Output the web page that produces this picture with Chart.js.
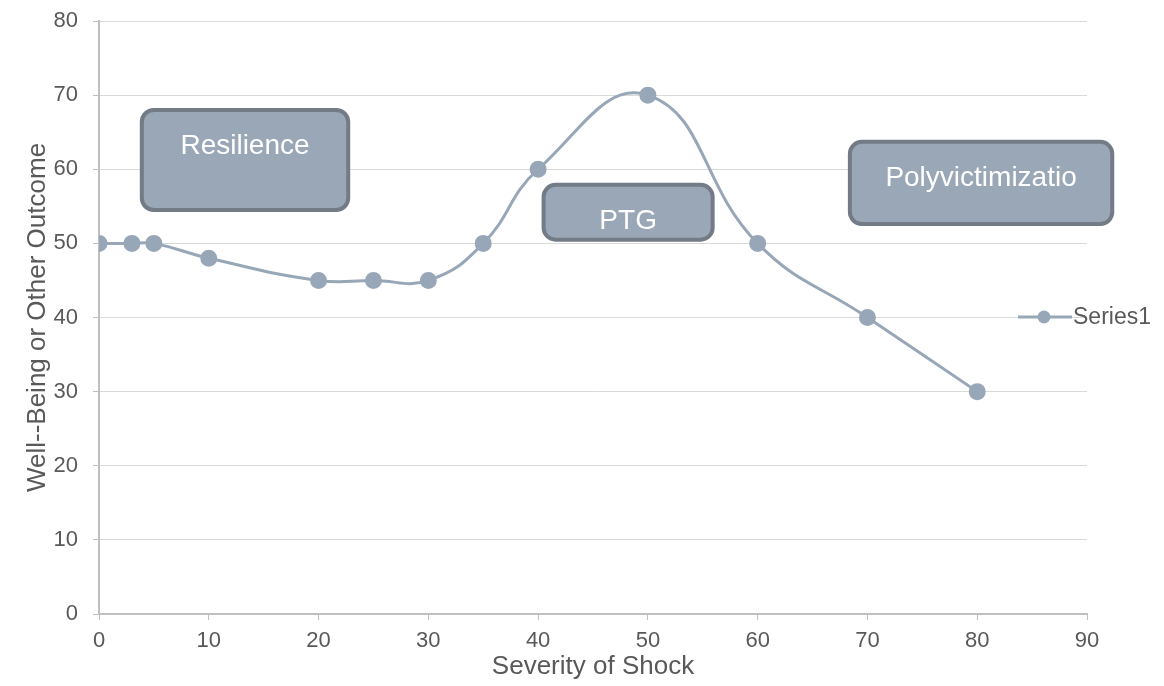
<!DOCTYPE html>
<html lang="en">
<head>
    <meta charset="UTF-8">
    <title>Severity of Shock</title>
    <style>
        body { margin: 0; background: #fff; }
        #wrap { width: 1164px; height: 686px; }
    </style>
</head>
<body>
<div id="wrap">
    <canvas id="shockChart" width="1164" height="686"></canvas>
</div>

<script src="https://cdn.jsdelivr.net/npm/chart.js"></script>

<script>
    // Data
    const severity = [0, 3, 5, 10, 20, 25, 30, 35, 40, 50, 60, 70, 80];
    const wellBeing = [50, 50, 50, 48, 45, 45, 45, 50, 60, 70, 50, 40, 30];
    const seriesName = "Series1";
    const boxLabels = ["Resilience", "PTG", "Polyvictimizatio"];

    const lineColor = "#98a7b8";
    const fontName = "'Liberation Sans', Arial, sans-serif";

    // Rounded label boxes, placed in data units
    const boxPlugin = {
        id: "boxes",
        afterDatasetsDraw(chart) {
            const ctx = chart.ctx;
            const x = chart.scales.x, y = chart.scales.y;
            const spots = [
                [3.9, 68.0, 22.7, 54.5],
                [40.5, 57.9, 55.9, 50.5],
                [68.4, 63.7, 92.3, 52.6]
            ];
            ctx.save();
            spots.forEach((s, i) => {
                const l = x.getPixelForValue(s[0]);
                const t = y.getPixelForValue(s[1]);
                const r = x.getPixelForValue(s[2]);
                const b = y.getPixelForValue(s[3]);
                ctx.beginPath();
                ctx.roundRect(l, t, r - l, b - t, 12);
                ctx.fillStyle = "#9aa7b6";
                ctx.fill();
                ctx.lineWidth = 4;
                ctx.strokeStyle = "#737b87";
                ctx.stroke();
                ctx.fillStyle = "#ffffff";
                ctx.font = "28px " + fontName;
                ctx.textAlign = "center";
                ctx.textBaseline = "middle";
                ctx.fillText(boxLabels[i], (l + r) / 2, t + 36);
            });

            // legend drawn over the right edge like the original
            const ly = 317;
            ctx.strokeStyle = lineColor;
            ctx.lineWidth = 3;
            ctx.beginPath();
            ctx.moveTo(1018, ly);
            ctx.lineTo(1072, ly);
            ctx.stroke();
            ctx.beginPath();
            ctx.arc(1044, ly, 6.5, 0, Math.PI * 2);
            ctx.fillStyle = lineColor;
            ctx.fill();
            ctx.fillStyle = "#595959";
            ctx.font = "23px " + fontName;
            ctx.textAlign = "left";
            ctx.textBaseline = "middle";
            ctx.fillText(seriesName, 1073, ly + 1);
            ctx.restore();
        }
    };

    const points = severity.map((v, i) => ({ x: v, y: wellBeing[i] }));

    const shockChart = new Chart(document.getElementById("shockChart"), {
        type: "scatter",
        data: {
            datasets: [{
                label: seriesName,
                data: points,
                showLine: true,
                tension: 0.45,
                borderColor: lineColor,
                backgroundColor: lineColor,
                borderWidth: 3,
                pointRadius: 7,
                pointHoverRadius: 7
            }]
        },
        options: {
            responsive: false,
            animation: false,
            layout: { padding: { top: 21, right: 77, left: 22, bottom: 4 } },
            plugins: {
                legend: { display: false },
                tooltip: { enabled: false }
            },
            scales: {
                x: {
                    min: 0,
                    max: 90,
                    ticks: { stepSize: 10, color: "#595959", font: { family: fontName, size: 22 }, padding: 8 },
                    grid: { drawOnChartArea: false, drawTicks: true, tickLength: 6, color: "#bfbfbf" },
                    border: { color: "#bfbfbf", width: 2 },
                    title: { display: true, text: "Severity of Shock", color: "#595959", font: { family: fontName, size: 26 }, padding: 0 },
                    afterFit(scale) { scale.height = 68; }
                },
                y: {
                    min: 0,
                    max: 80,
                    ticks: { stepSize: 10, color: "#595959", font: { family: fontName, size: 22 }, padding: 15 },
                    grid: { color: "#d9d9d9", tickLength: 6, tickColor: "#bfbfbf" },
                    border: { color: "#bfbfbf", width: 2 },
                    title: { display: true, text: "Well--Being or Other Outcome", color: "#595959", font: { family: fontName, size: 26 }, padding: 0 },
                    afterFit(scale) {
                        scale.width = 77;
                        scale.paddingTop = 0;
                        scale.paddingBottom = 0;
                    }
                }
            }
        },
        plugins: [boxPlugin]
    });
</script>
</body>
</html>
